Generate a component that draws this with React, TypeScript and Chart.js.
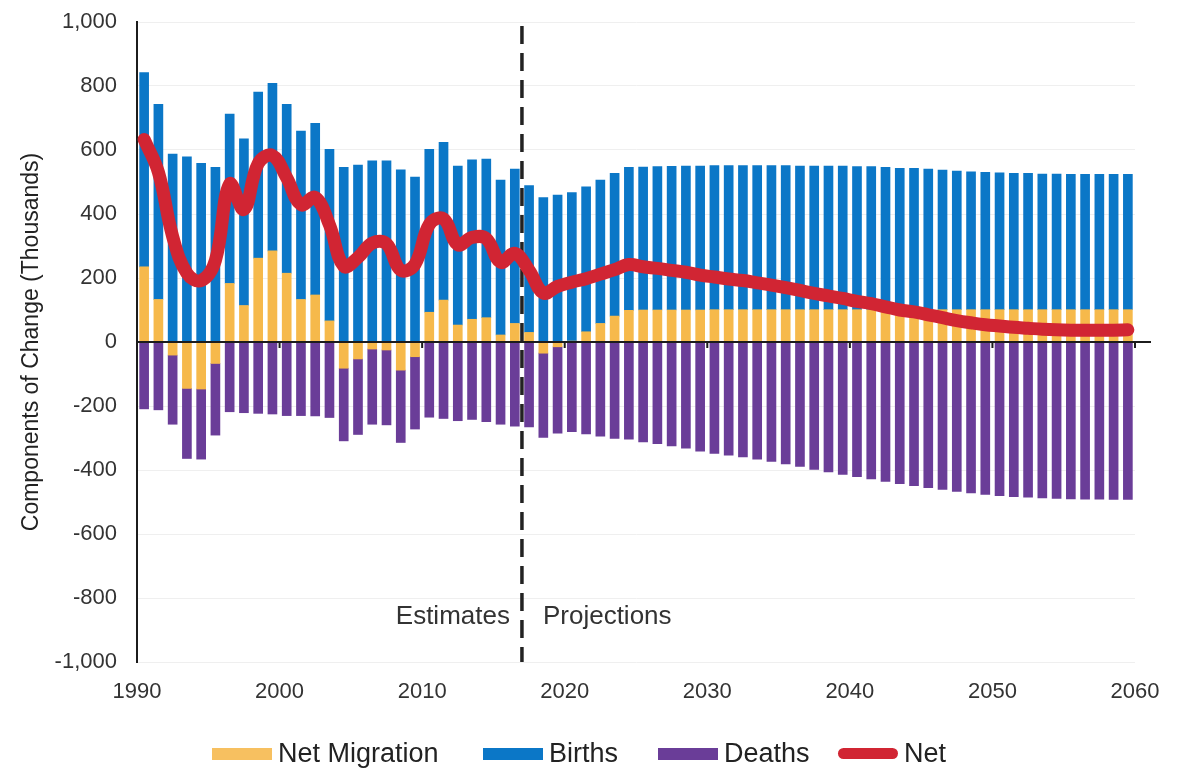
import React, { useEffect, useRef } from "react";
import { Chart, registerables } from "chart.js";

Chart.register(...registerables);

// ---------- data ----------
const YEARS = [
  1990, 1991, 1992, 1993, 1994, 1995, 1996, 1997, 1998, 1999,
  2000, 2001, 2002, 2003, 2004, 2005, 2006, 2007, 2008, 2009,
  2010, 2011, 2012, 2013, 2014, 2015, 2016, 2017, 2018, 2019,
  2020, 2021, 2022, 2023, 2024, 2025, 2026, 2027, 2028, 2029,
  2030, 2031, 2032, 2033, 2034, 2035, 2036, 2037, 2038, 2039,
  2040, 2041, 2042, 2043, 2044, 2045, 2046, 2047, 2048, 2049,
  2050, 2051, 2052, 2053, 2054, 2055, 2056, 2057, 2058, 2059,
];

const NET_MIGRATION = [
  235, 133, -41, -145, -147, -67, 183, 114, 262, 285,
  215, 133, 147, 66, -82, -53, -22, -25, -88, -46,
  93, 131, 53, 71, 76, 22, 58, 30, -35, -15,
  3, 32, 58, 81, 99, 100, 100, 100, 100, 100,
  101, 101, 101, 101, 101, 101, 101, 101, 101, 101,
  101, 101, 101, 101, 101, 101, 101, 101, 101, 101,
  101, 101, 101, 101, 101, 101, 101, 101, 101, 101,
];

const BIRTHS = [
  607, 610, 587, 579, 558, 546, 529, 521, 519, 523,
  528, 526, 536, 536, 546, 553, 566, 566, 538, 515,
  509, 493, 497, 498, 496, 484, 482, 459, 451, 459,
  464, 453, 448, 446, 447, 447, 448, 449, 450, 450,
  450, 450, 450, 450, 450, 450, 449, 449, 449, 449,
  447, 447, 445, 442, 442, 439, 436, 433, 431, 429,
  428, 426, 426, 424, 424, 423, 423, 423, 423, 423,
];

const DEATHS = [
  -209, -212, -216, -219, -219, -224, -218, -221, -223, -225,
  -230, -230, -231, -236, -227, -236, -235, -234, -226, -226,
  -235, -239, -246, -242, -249, -257, -263, -265, -263, -270,
  -280, -287, -294, -301, -304, -312, -318, -325, -332, -341,
  -348, -354, -359, -366, -373, -381, -389, -398, -406, -414,
  -421, -428, -436, -443, -449, -455, -461, -467, -472, -476,
  -480, -483, -485, -487, -489, -490, -491, -491, -492, -492,
];

const NET = [
  633, 531, 330, 215, 192, 255, 494, 414, 558, 583,
  513, 429, 452, 366, 237, 264, 309, 307, 224, 243,
  367, 385, 304, 327, 323, 249, 277, 224, 153, 174,
  187, 198, 212, 226, 242, 235, 230, 224, 218, 209,
  203, 197, 192, 185, 178, 170, 161, 152, 144, 136,
  127, 120, 110, 100, 94, 85, 76, 67, 60, 54,
  50, 46, 43, 40, 38, 37, 37, 37, 37, 38,
];

const SERIES_NAMES = ["Net Migration", "Births", "Deaths", "Net"];
const Y_MIN = -1000;
const Y_MAX = 1000;
const Y_STEP = 200;
const X_MIN = 1990;
const X_MAX = 2060;
const X_STEP = 10;
const ESTIMATE_END = 2017;
const ESTIMATES_LABEL = "Estimates";
const PROJECTIONS_LABEL = "Projections";
const LABEL_VALUE = -860;
const Y_TITLE = "Components of Change (Thousands)";

// ---------- styles ----------
const FONT = '"Liberation Sans", Arial, Helvetica, sans-serif';
const COLORS = {
  migration: "#f6b94b",
  births: "#0b77c7",
  deaths: "#6a3d98",
  net: "#d12533",
};
const LEGEND_COLORS = ["#f7c060", "#0b77c7", "#6a3d98", "#d12533"];
const LEGEND_LEFTS = [212, 483, 658, 838];

const toPoints = (vals: number[]) => vals.map((v, i) => ({ x: YEARS[i] + 0.5, y: v }));

const overlayPlugin = {
  id: "overlay",
  beforeDatasetDraw(chart: any, args: any) {
    if (args.index !== 3) return;
    const ctx = chart.ctx;
    const xs = chart.scales.x;
    const ys = chart.scales.y;
    const area = chart.chartArea;
    ctx.save();
    const y0 = ys.getPixelForValue(0);
    ctx.strokeStyle = "#1c1c1c";
    ctx.lineWidth = 2;
    ctx.beginPath();
    ctx.moveTo(area.left, y0);
    ctx.lineTo(area.right + 16, y0);
    ctx.stroke();
    xs.ticks.forEach((t: any) => {
      if (t.value === X_MIN) return;
      const px = xs.getPixelForValue(t.value);
      ctx.beginPath();
      ctx.moveTo(px, y0);
      ctx.lineTo(px, y0 + 6);
      ctx.stroke();
    });
    const xd = xs.getPixelForValue(ESTIMATE_END);
    ctx.setLineDash([18, 9]);
    ctx.lineWidth = 3.5;
    ctx.strokeStyle = "#222";
    ctx.beginPath();
    ctx.moveTo(xd, ys.getPixelForValue(Y_MAX) + 4);
    ctx.lineTo(xd, area.bottom);
    ctx.stroke();
    ctx.setLineDash([]);
    ctx.font = `26px ${FONT}`;
    ctx.fillStyle = "#333";
    ctx.textBaseline = "middle";
    const ly = ys.getPixelForValue(LABEL_VALUE);
    ctx.textAlign = "right";
    ctx.fillText(ESTIMATES_LABEL, xd - 12, ly);
    ctx.textAlign = "left";
    ctx.fillText(PROJECTIONS_LABEL, xd + 21, ly);
    ctx.restore();
  },
};

export default function App() {
  const ref = useRef<HTMLCanvasElement | null>(null);

  useEffect(() => {
    if (!ref.current) return;
    const barCommon = {
      type: "bar" as const,
      grouped: false,
      barThickness: 9,
      stack: "components",
      order: 0,
      borderWidth: 0,
    };
    const chart = new Chart(ref.current, {
      type: "bar",
      data: {
        datasets: [
          { ...barCommon, label: SERIES_NAMES[0], data: toPoints(NET_MIGRATION), backgroundColor: COLORS.migration },
          { ...barCommon, label: SERIES_NAMES[1], data: toPoints(BIRTHS), backgroundColor: COLORS.births },
          { ...barCommon, label: SERIES_NAMES[2], data: toPoints(DEATHS), backgroundColor: COLORS.deaths },
          {
            type: "line",
            label: SERIES_NAMES[3],
            data: toPoints(NET),
            borderColor: COLORS.net,
            backgroundColor: COLORS.net,
            borderWidth: 13,
            borderCapStyle: "round",
            borderJoinStyle: "round",
            tension: 0.4,
            pointRadius: 0,
            stack: "net",
            order: -1,
          } as any,
        ],
      },
      options: {
        responsive: false,
        animation: false,
        devicePixelRatio: 1,
        layout: { padding: { top: 22, right: 45, bottom: 0, left: 0 } },
        plugins: { legend: { display: false }, tooltip: { enabled: false } },
        scales: {
          x: {
            type: "linear",
            offset: false,
            min: X_MIN,
            max: X_MAX,
            grid: { display: false, drawTicks: false, offset: false },
            border: { display: false },
            ticks: {
              stepSize: X_STEP,
              padding: 17,
              color: "#333",
              font: { family: FONT, size: 22 },
              callback: (v: any) => String(v),
              maxRotation: 0,
            },
            afterFit: (s: any) => {
              s.height = 107;
            },
          },
          y: {
            stacked: true,
            min: Y_MIN,
            max: Y_MAX,
            grid: { color: "#efefef", lineWidth: 1, drawTicks: false },
            border: { display: true, color: "#1c1c1c", width: 2 },
            ticks: {
              stepSize: Y_STEP,
              padding: 20,
              color: "#333",
              font: { family: FONT, size: 22 },
            },
            title: {
              display: true,
              text: Y_TITLE,
              color: "#222",
              font: { family: FONT, size: 23 },
              padding: { top: 18, bottom: 0 },
            },
            afterFit: (s: any) => {
              s.width = 137;
              s.paddingTop = 0;
              s.paddingBottom = 0;
            },
          },
        },
      },
      plugins: [overlayPlugin],
    });
    return () => chart.destroy();
  }, []);

  return (
    <div style={{ position: "fixed", left: 0, top: 0, width: 1180, height: 769, background: "#fff" }}>
      <canvas ref={ref} width={1180} height={769} style={{ display: "block" }} />
      {SERIES_NAMES.map((name, i) => (
        <div
          key={name}
          style={{
            position: "absolute",
            left: LEGEND_LEFTS[i],
            top: 738,
            display: "flex",
            alignItems: "center",
            fontFamily: FONT,
            fontSize: 27,
            color: "#222",
            whiteSpace: "nowrap",
          }}
        >
          <span
            style={{
              display: "inline-block",
              width: 60,
              height: i === 3 ? 11 : 12,
              borderRadius: i === 3 ? 6 : 0,
              background: LEGEND_COLORS[i],
              marginRight: 6,
            }}
          />
          <span>{name}</span>
        </div>
      ))}
    </div>
  );
}
